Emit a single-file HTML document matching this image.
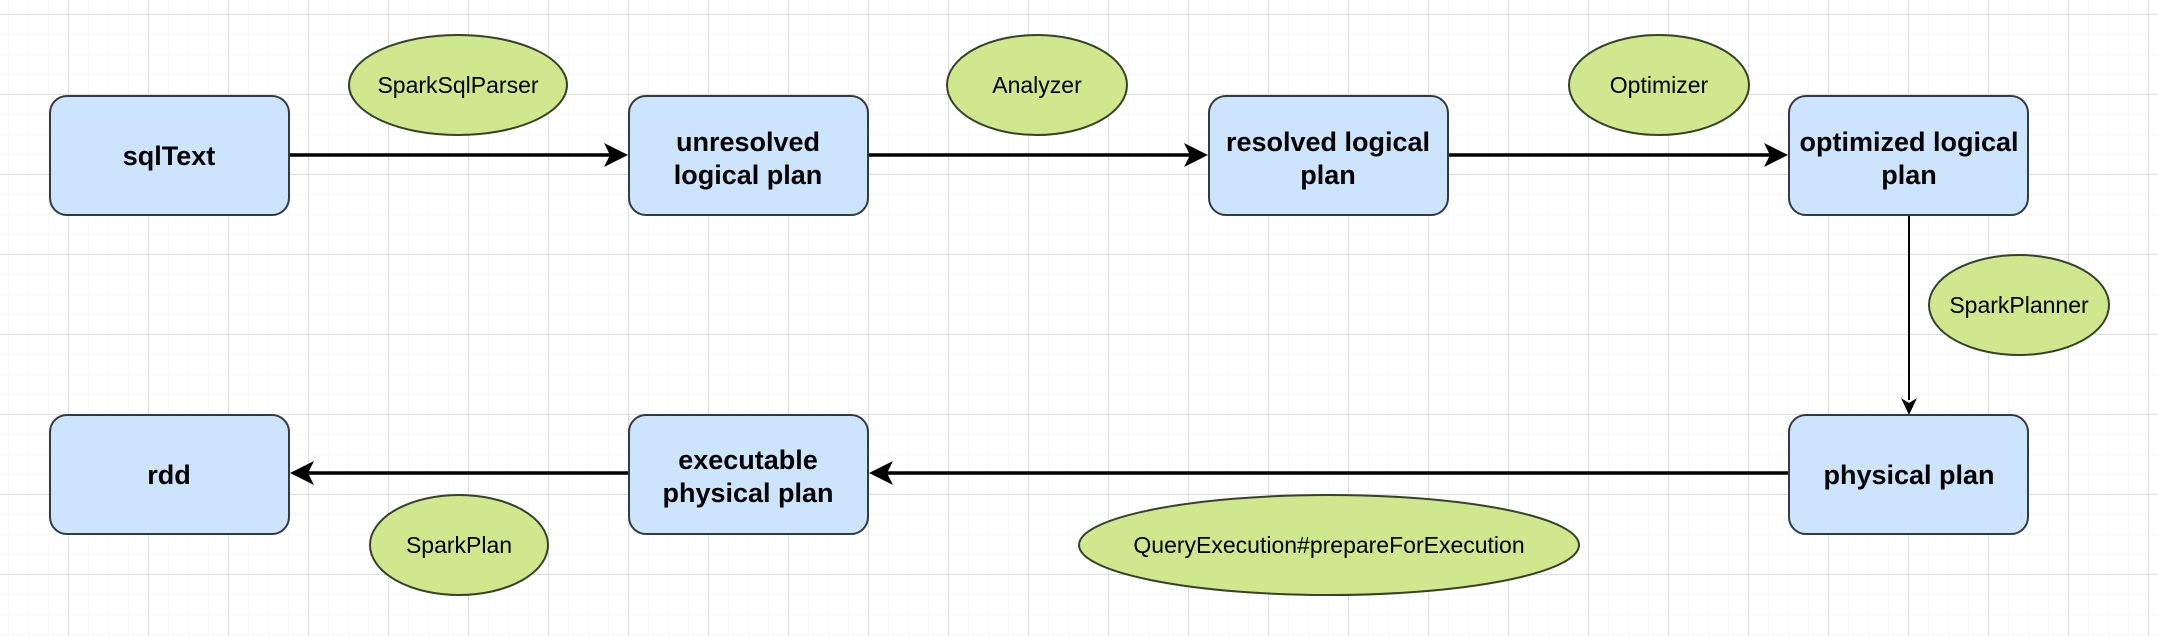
<!DOCTYPE html>
<html><head><meta charset="utf-8"><style>
html,body{margin:0;padding:0;background:#fff}
svg{display:block}
</style></head><body>
<svg width="2158" height="636" viewBox="0 0 2158 636" xmlns="http://www.w3.org/2000/svg">
<defs>
<pattern id="minor" x="8" y="14" width="20" height="20" patternUnits="userSpaceOnUse">
<path d="M0 0H20M0 0V20" stroke="#f3f3f3" stroke-width="1" fill="none"/>
</pattern>
<pattern id="major" x="68" y="14" width="80" height="80" patternUnits="userSpaceOnUse">
<path d="M0 0.5H80M0.5 0V80" stroke="#dddddd" stroke-width="1" fill="none"/>
</pattern>
</defs>
<rect width="2158" height="636" fill="#fff"/>
<rect width="2158" height="636" fill="url(#minor)"/>
<rect width="2158" height="636" fill="url(#major)"/>

<g stroke="#000" stroke-width="3.5" fill="none">
<line x1="290" y1="155" x2="612" y2="155"/>
<line x1="869" y1="155" x2="1192" y2="155"/>
<line x1="1449" y1="155" x2="1772" y2="155"/>
<line x1="1789" y1="473" x2="885" y2="473"/>
<line x1="629" y1="473" x2="306" y2="473"/>
</g>
<line x1="1909" y1="215" x2="1909" y2="400" stroke="#000" stroke-width="2"/>
<g fill="#000">
<path d="M628 155 L604 143 L610 155 L604 167Z"/>
<path d="M1208 155 L1184 143 L1190 155 L1184 167Z"/>
<path d="M1788 155 L1764 143 L1770 155 L1764 167Z"/>
<path d="M869 473 L893 461 L887 473 L893 485Z"/>
<path d="M290 473 L314 461 L308 473 L314 485Z"/>
<path d="M1909 415 L1901 398 L1909 403 L1917 398Z"/>
</g>

<g fill="#cce5fc" stroke="#333a44" stroke-width="2">
<rect x="50" y="96" width="239" height="119" rx="17"/>
<rect x="629" y="96" width="239" height="119" rx="17"/>
<rect x="1209" y="96" width="239" height="119" rx="17"/>
<rect x="1789" y="96" width="239" height="119" rx="17"/>
<rect x="50" y="415" width="239" height="119" rx="17"/>
<rect x="629" y="415" width="239" height="119" rx="17"/>
<rect x="1789" y="415" width="239" height="119" rx="17"/>
</g>

<g fill="#cfe88e" stroke="#36422a" stroke-width="2">
<ellipse cx="458" cy="85" rx="109" ry="50"/>
<ellipse cx="1037" cy="85" rx="90" ry="50"/>
<ellipse cx="1659" cy="85" rx="90" ry="50"/>
<ellipse cx="2019" cy="305" rx="90" ry="50"/>
<ellipse cx="459" cy="545" rx="89" ry="50"/>
<ellipse cx="1329" cy="545" rx="250" ry="50"/>
</g>

<g font-family="Liberation Sans, sans-serif" font-weight="bold" font-size="27" text-anchor="middle" fill="#000">
<text x="169" y="165">sqlText</text>
<text x="748" y="151">unresolved</text>
<text x="748" y="184">logical plan</text>
<text x="1328" y="151">resolved logical</text>
<text x="1328" y="184">plan</text>
<text x="1909" y="151">optimized logical</text>
<text x="1909" y="184">plan</text>
<text x="169" y="484">rdd</text>
<text x="748" y="469">executable</text>
<text x="748" y="502">physical plan</text>
<text x="1909" y="484">physical plan</text>
</g>
<g font-family="Liberation Sans, sans-serif" font-size="23" text-anchor="middle" fill="#000">
<text x="458" y="93">SparkSqlParser</text>
<text x="1037" y="93">Analyzer</text>
<text x="1659" y="93">Optimizer</text>
<text x="2019" y="313">SparkPlanner</text>
<text x="459" y="553">SparkPlan</text>
<text x="1329" y="553">QueryExecution#prepareForExecution</text>
</g>
</svg>
</body></html>
